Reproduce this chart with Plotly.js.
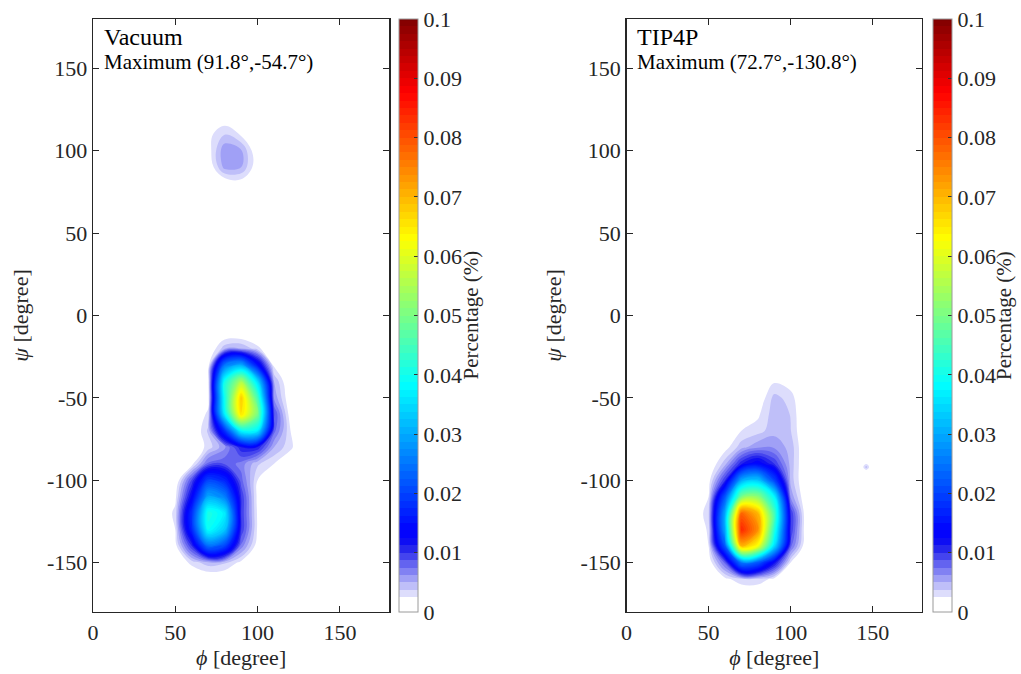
<!DOCTYPE html>
<html>
<head>
<meta charset="utf-8">
<script src="https://cdn.plot.ly/plotly-3.0.1.min.js"></script>
<style>html,body{margin:0;padding:0;background:#fff;}#chart{width:1021px;height:674px;}</style>
</head>
<body>
<div id="chart"></div>
<script>
// ---- data (percentage density on a 10-degree grid) ----
const phiGrid = [30, 40, 50, 60, 70, 80, 90, 100, 110, 120, 130, 140];
const psiVacuum = [-180,-170,-160,-150,-140,-130,-120,-110,-100,-90,-80,-70,-60,-50,-40,-30,-20,-10,0,10,20,30,40,50,60,70,80,90,100,110,120,130];
const densityVacuum = [
  [0,0,0,0,0,0,0,0,0,0,0,0],
  [0,0,0,0,0,0,0,0,0,0,0,0],
  [0,0,0,0.0003,0.0009,0.0008,0.0003,0,0,0,0,0],
  [0,0,0.0008,0.003,0.0045,0.004,0.002,0.0004,0,0,0,0],
  [0,0.0002,0.0018,0.01,0.024,0.02,0.007,0.0015,0,0,0,0],
  [0,0.0004,0.0025,0.017,0.039,0.033,0.01,0.0022,0,0,0,0],
  [0,0.0004,0.003,0.018,0.041,0.037,0.01,0.0022,0,0,0,0],
  [0,0.0002,0.002,0.013,0.03,0.026,0.01,0.002,0,0,0,0],
  [0,0,0.0006,0.009,0.02,0.017,0.008,0.0025,0.0003,0,0,0],
  [0,0,0,0.0018,0.008,0.0085,0.007,0.004,0.0025,0.0012,0,0],
  [0,0,0,0.001,0.003,0.006,0.011,0.011,0.005,0.0028,0.0006,0],
  [0,0,0,0.0006,0.004,0.018,0.038,0.037,0.008,0.0025,0.0005,0],
  [0,0,0,0,0.003,0.037,0.066,0.05,0.009,0.0015,0.0003,0],
  [0,0,0,0,0.0015,0.04,0.068,0.045,0.006,0.001,0,0],
  [0,0,0,0,0.002,0.04,0.055,0.035,0.005,0.0005,0,0],
  [0,0,0,0,0.0015,0.025,0.03,0.015,0.002,0,0,0],
  [0,0,0,0,0.0008,0.0045,0.005,0.003,0.0003,0,0,0],
  [0,0,0,0,0.0003,0.0008,0.0006,0,0,0,0,0],
  [0,0,0,0,0,0,0,0,0,0,0,0],
  [0,0,0,0,0,0,0,0,0,0,0,0],
  [0,0,0,0,0,0,0,0,0,0,0,0],
  [0,0,0,0,0,0,0,0,0,0,0,0],
  [0,0,0,0,0,0,0,0,0,0,0,0],
  [0,0,0,0,0,0,0,0,0,0,0,0],
  [0,0,0,0,0,0,0,0,0,0,0,0],
  [0,0,0,0,0,0,0.0003,0,0,0,0,0],
  [0,0,0,0,0,0.0009,0.0016,0.0005,0,0,0,0],
  [0,0,0,0,0.001,0.0055,0.005,0.0013,0,0,0,0],
  [0,0,0,0,0.0017,0.006,0.0052,0.001,0,0,0,0],
  [0,0,0,0,0.002,0.0037,0.0023,0.0004,0,0,0,0],
  [0,0,0,0,0.001,0.0014,0.0002,0,0,0,0,0],
  [0,0,0,0,0,0,0,0,0,0,0,0]
];
const psiTip4p = [-180,-170,-160,-150,-140,-130,-120,-110,-100,-90,-80,-70,-60,-50,-40,-30,-20];
const densityTip4p = [
  [0,0,0,0,0,0,0,0,0,0,0,0],
  [0,0,0,0,0.0005,0.0005,0,0,0,0,0,0],
  [0,0,0,0.002,0.0035,0.0035,0.002,0.0003,0,0,0,0],
  [0,0,0.0012,0.008,0.025,0.022,0.012,0.0025,0,0,0,0],
  [0,0.0004,0.0025,0.022,0.07,0.062,0.035,0.008,0.0005,0,0,0],
  [0,0.0005,0.0028,0.03,0.084,0.074,0.042,0.01,0.0006,0,0,0],
  [0,0.0005,0.0035,0.03,0.078,0.07,0.045,0.01,0.0006,0,0,0],
  [0,0.0003,0.0025,0.022,0.05,0.052,0.038,0.006,0.0005,0,0,0],
  [0,0,0.0018,0.01,0.03,0.033,0.02,0.0045,0.0004,0,0,0],
  [0,0,0.0007,0.0045,0.011,0.014,0.01,0.0045,0.0005,0,0,0],
  [0,0,0,0.0018,0.0045,0.006,0.006,0.0045,0.0005,0,0,0],
  [0,0,0,0.0005,0.0025,0.0032,0.0045,0.0038,0.0004,0,0,0],
  [0,0,0,0,0.0009,0.0022,0.0045,0.0037,0.0002,0,0,0],
  [0,0,0,0,0,0.0011,0.0042,0.0032,0,0,0,0],
  [0,0,0,0,0,0.0002,0.0023,0.0016,0,0,0,0],
  [0,0,0,0,0,0,0.0004,0,0,0,0,0],
  [0,0,0,0,0,0,0,0,0,0,0,0]
];
// isolated small spot in TIP4P panel
const spotPhi = [142, 146, 150];
const spotPsi = [-96, -92, -88];
const spotDensity = [[0,0,0],[0,0.0045,0],[0,0,0]];

const panelNames = ['Vacuum', 'TIP4P'];
const maximumLabels = ['Maximum (91.8°,-54.7°)', 'Maximum (72.7°,-130.8°)'];
const phiTicks = [0, 50, 100, 150];
const psiTicks = [-150, -100, -50, 0, 50, 100, 150];
const psiTickText = ['-150', '-100', '-50', '0', '50', '100', '150'];
const cbTicks = [0, 0.01, 0.02, 0.03, 0.04, 0.05, 0.06, 0.07, 0.08, 0.09, 0.1];
const cbTickText = ['0', '0.01', '0.02', '0.03', '0.04', '0.05', '0.06', '0.07', '0.08', '0.09', '0.1'];

// ---- styling ----
const FONT = '"Liberation Serif", "Times New Roman", Times, serif';
const INK = '#262626';
const colorscale = [
  [0, 'rgb(255,255,255)'],
  [0.0125, 'rgb(255,255,255)'],
  [0.01875, 'rgb(222,222,252)'],
  [0.09375, 'rgb(40,40,235)'],
  [0.10625, 'rgb(15,15,242)'],
  [0.125, 'rgb(0,0,255)'],
  [0.375, 'rgb(0,255,255)'],
  [0.625, 'rgb(255,255,0)'],
  [0.875, 'rgb(255,0,0)'],
  [1, 'rgb(128,0,0)']
];
const contours = {start: 0.00125, end: 0.1, size: 0.00125, coloring: 'fill', showlines: false};

function colorbar(x) {
  return {
    x: x, xanchor: 'left', xref: 'paper', y: 0.5, yanchor: 'middle', len: 1, lenmode: 'fraction',
    thickness: 19, thicknessmode: 'pixels', xpad: 0, ypad: 0,
    outlinewidth: 1, outlinecolor: '#9a9a9a',
    tickmode: 'array', tickvals: cbTicks, ticktext: cbTickText,
    ticks: 'inside', ticklen: 4, tickwidth: 1, tickcolor: '#333',
    tickfont: {family: FONT, size: 22, color: INK}
  };
}

const traces = [
  {type: 'contour', x: phiGrid, y: psiVacuum, z: densityVacuum, xaxis: 'x', yaxis: 'y',
   colorscale: colorscale, zmin: 0, zmax: 0.1, contours: contours, line: {width: 0, smoothing: 1.1},
   colorbar: colorbar(0.3562), hoverinfo: 'skip'},
  {type: 'contour', x: phiGrid, y: psiTip4p, z: densityTip4p, xaxis: 'x2', yaxis: 'y2',
   colorscale: colorscale, zmin: 0, zmax: 0.1, contours: contours, line: {width: 0, smoothing: 1.1},
   colorbar: colorbar(0.9773), hoverinfo: 'skip'},
  {type: 'contour', x: spotPhi, y: spotPsi, z: spotDensity, xaxis: 'x2', yaxis: 'y2',
   colorscale: colorscale, zmin: 0, zmax: 0.1, contours: contours, line: {width: 0, smoothing: 1.1},
   showscale: false, hoverinfo: 'skip'}
];

function xAxis(domain, anchor) {
  return {
    domain: domain, anchor: anchor, range: [0, 180], tickmode: 'array', tickvals: phiTicks,
    ticks: 'inside', ticklen: 6, tickwidth: 1, tickcolor: INK, showline: true, linewidth: 1.3, linecolor: INK,
    mirror: 'ticks', showgrid: false, zeroline: false,
    tickfont: {family: FONT, size: 22, color: INK},
    title: {text: '<i>ϕ</i> [degree]', font: {family: FONT, size: 22, color: INK}, standoff: 4}
  };
}
function yAxis(anchor) {
  return {
    domain: [0, 1], anchor: anchor, range: [-180, 180], tickmode: 'array', tickvals: psiTicks, ticktext: psiTickText,
    ticks: 'inside', ticklen: 6, tickwidth: 1, tickcolor: INK, showline: true, linewidth: 1.3, linecolor: INK,
    mirror: 'ticks', showgrid: false, zeroline: false,
    tickfont: {family: FONT, size: 22, color: INK},
    title: {text: '<i>ψ</i> [degree]', font: {family: FONT, size: 22, color: INK}, standoff: 12}
  };
}

const annotations = [];
['x', 'x2'].forEach(function (ax, i) {
  const yref = (i === 0 ? 'y' : 'y2') + ' domain';
  annotations.push({xref: ax + ' domain', yref: yref, x: 0.03, y: 0.9696, xanchor: 'left', yanchor: 'middle',
    text: panelNames[i], showarrow: false, font: {family: FONT, size: 24, color: '#000'}});
  annotations.push({xref: ax + ' domain', yref: yref, x: 0.03, y: 0.9275, xanchor: 'left', yanchor: 'middle',
    text: maximumLabels[i], showarrow: false, font: {family: FONT, size: 21, color: '#000'}});
});
[0.4389, 1.0600].forEach(function (x) {
  annotations.push({xref: 'paper', yref: 'paper', x: x, y: 0.5, xanchor: 'center', yanchor: 'middle',
    text: 'Percentage (%)', textangle: -90, showarrow: false, font: {family: FONT, size: 21, color: INK}});
});

const layout = {
  width: 1021, height: 674,
  margin: {l: 93, r: 69, t: 19, b: 62, pad: 0},
  paper_bgcolor: '#fff', plot_bgcolor: '#fff',
  showlegend: false,
  xaxis: xAxis([0, 0.3449], 'y'),
  yaxis: yAxis('x'),
  xaxis2: xAxis([0.6211, 0.9651], 'y2'),
  yaxis2: yAxis('x2'),
  annotations: annotations,
  font: {family: FONT, color: INK}
};

Plotly.newPlot('chart', traces, layout, {staticPlot: true, displayModeBar: false});
</script>
</body>
</html>
